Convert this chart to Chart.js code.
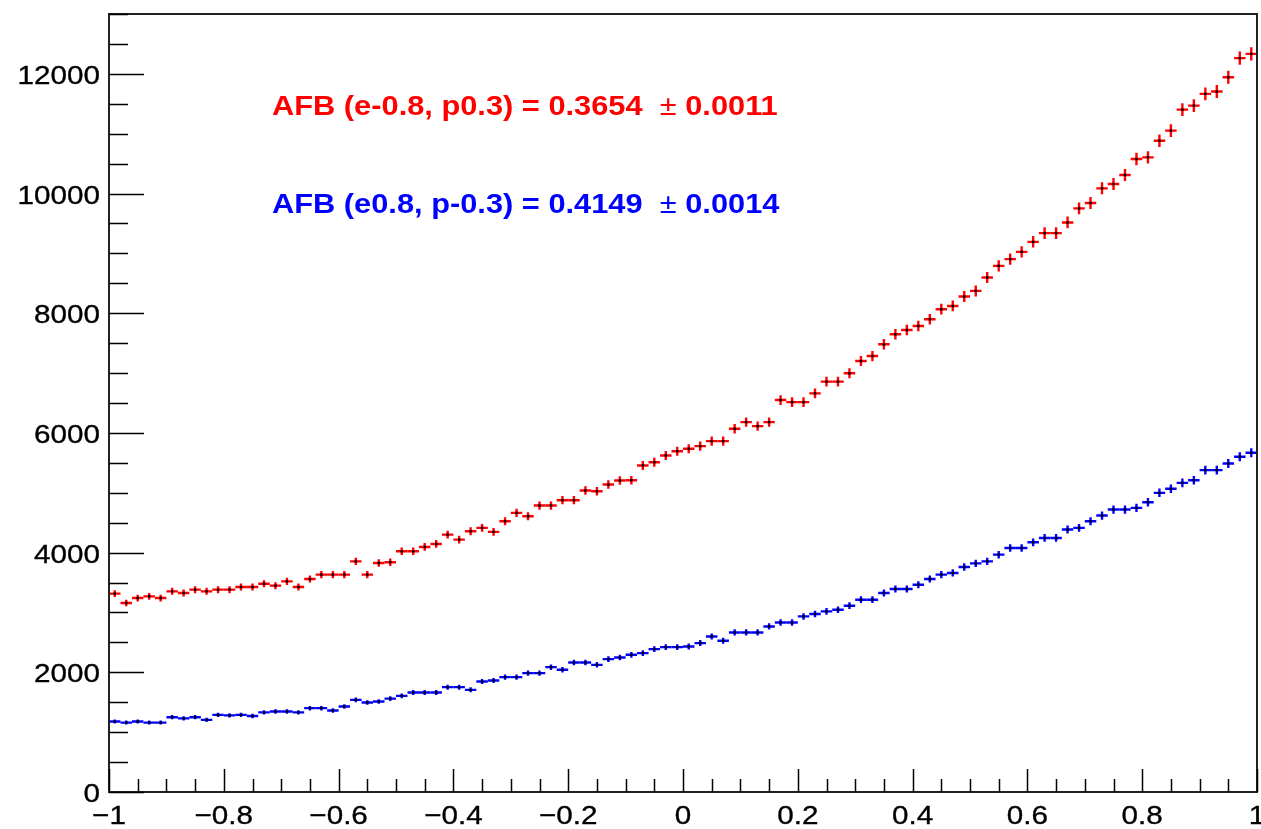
<!DOCTYPE html>
<html>
<head>
<meta charset="utf-8">
<title>AFB histogram</title>
<script src="https://cdn.jsdelivr.net/npm/chart.js@4.4.1/dist/chart.umd.min.js"></script>
<style>
    html, body { margin: 0; padding: 0; background: #fff; }
    canvas { display: block; }
</style>
</head>
<body>
<canvas id="afbChart" width="1261" height="829"></canvas>
<script>
// histogram binning (100 bins on -1..1)
const NBINS = 100;
const XMIN = -1;
const XMAX = 1;
const YMAX = 13000;

// bin contents
const redCounts = [
    3314, 3158, 3241, 3269, 3241, 3353, 3325, 3381, 3353, 3381,
    3381, 3425, 3425, 3481, 3448, 3520, 3425, 3559, 3632, 3632,
    3632, 3854, 3632, 3827, 3840, 4022, 4022, 4095, 4145, 4301,
    4217, 4357, 4413, 4346, 4524, 4664, 4608, 4787, 4787, 4876,
    4876, 5038, 5026, 5138, 5205, 5210, 5456, 5511, 5623, 5695,
    5735, 5780, 5863, 5863, 6070, 6181, 6114, 6181, 6549, 6515,
    6515, 6661, 6857, 6857, 6996, 7202, 7285, 7481, 7648, 7720,
    7787, 7899, 8067, 8122, 8279, 8373, 8597, 8792, 8904, 9026,
    9193, 9339, 9339, 9517, 9752, 9841, 10087, 10159, 10309, 10577,
    10605, 10883, 11051, 11402, 11469, 11665, 11704, 11944, 12262, 12334
];
const blueCounts = [
    1177, 1160, 1177, 1160, 1160, 1250, 1230, 1250, 1205, 1289,
    1280, 1289, 1270, 1330, 1344, 1344, 1330, 1401, 1401, 1361,
    1428, 1540, 1495, 1512, 1560, 1607, 1662, 1662, 1662, 1752,
    1752, 1707, 1846, 1863, 1919, 1919, 1986, 1986, 2086, 2042,
    2164, 2164, 2125, 2220, 2248, 2293, 2321, 2388, 2421, 2421,
    2432, 2488, 2599, 2527, 2666, 2666, 2666, 2766, 2833, 2833,
    2934, 2974, 3018, 3046, 3113, 3213, 3213, 3325, 3392, 3392,
    3464, 3559, 3632, 3660, 3760, 3820, 3854, 3966, 4078, 4078,
    4173, 4245, 4245, 4385, 4413, 4524, 4619, 4720, 4720, 4748,
    4842, 4999, 5066, 5166, 5210, 5378, 5378, 5489, 5601, 5668
];

// axis ticks
const xTickValues = [-1, -0.8, -0.6, -0.4, -0.2, 0, 0.2, 0.4, 0.6, 0.8, 1];
const yTickValues = [0, 2000, 4000, 6000, 8000, 10000, 12000];
const xMinorStep = 0.05;
const yMinorStep = 500;

// text boxes
const redText = ['AFB (e-0.8, p0.3) = 0.3654  ', '\u00b1', ' 0.0011'];
const blueText = ['AFB (e0.8, p-0.3) = 0.4149  ', '\u00b1', ' 0.0014'];

const RED = '#ff0000';
const BLUE = '#0000ff';
const binWidth = (XMAX - XMIN) / NBINS;

function toPoints(counts) {
    return counts.map((v, i) => ({ x: XMIN + (i + 0.5) * binWidth, y: v }));
}

function fmtTick(v) {
    const s = String(Math.abs(+v.toFixed(2)));
    return v < 0 ? '\u2212' + s : s;
}

// stretched text like the ROOT canvas (slightly heavier stroke)
function stretchText(ctx, text, x, y, sx, align) {
    ctx.save();
    ctx.translate(x, y);
    ctx.scale(sx, 1);
    ctx.textAlign = align;
    ctx.fillText(text, 0, 0);
    ctx.lineWidth = 0.35;
    ctx.strokeStyle = ctx.fillStyle;
    ctx.strokeText(text, 0, 0);
    ctx.restore();
}

const rootStylePlugin = {
    id: 'rootStyle',
    afterDatasetsDraw(chart) {
        const ctx = chart.ctx;
        const xs = chart.scales.x;
        const ys = chart.scales.y;
        ctx.save();
        chart.data.datasets.forEach(ds => {
            ctx.strokeStyle = ds.borderColor;
            ctx.lineWidth = 2.4;
            ds.data.forEach(p => {
                const err = Math.sqrt(p.y);
                const px = xs.getPixelForValue(p.x);
                const x0 = xs.getPixelForValue(p.x - binWidth / 2);
                const x1 = xs.getPixelForValue(p.x + binWidth / 2);
                const py = ys.getPixelForValue(p.y);
                const y0 = ys.getPixelForValue(p.y - err);
                const y1 = ys.getPixelForValue(p.y + err);
                ctx.beginPath();
                ctx.moveTo(x0, py);
                ctx.lineTo(x1, py);
                ctx.moveTo(px, y0);
                ctx.lineTo(px, y1);
                ctx.stroke();
            });
            // black marker dot in the middle
            ctx.fillStyle = '#000';
            ds.data.forEach(p => {
                const px = xs.getPixelForValue(p.x);
                const py = ys.getPixelForValue(p.y);
                ctx.fillRect(px - 1.2, py - 1.2, 2.4, 2.4);
            });
        });
        ctx.restore();
    },
    afterDraw(chart) {
        const ctx = chart.ctx;
        const area = chart.chartArea;
        const xs = chart.scales.x;
        const ys = chart.scales.y;
        ctx.save();

        // frame
        ctx.strokeStyle = '#222';
        ctx.lineWidth = 2;
        ctx.strokeRect(area.left, area.top, area.right - area.left, area.bottom - area.top);

        // ticks (inside the frame)
        ctx.strokeStyle = '#000';
        ctx.lineWidth = 1.5;
        ctx.beginPath();
        for (let v = 0; v <= YMAX + 1; v += yMinorStep) {
            const y = Math.round(ys.getPixelForValue(v)) + 0.5;
            const len = v % 2000 === 0 ? 35 : 19;
            ctx.moveTo(area.left, y);
            ctx.lineTo(area.left + len, y);
        }
        for (let k = 0; k <= Math.round((XMAX - XMIN) / xMinorStep); k++) {
            const v = XMIN + k * xMinorStep;
            const x = Math.round(xs.getPixelForValue(v)) + 0.5;
            const len = k % 4 === 0 ? 23 : 13;
            ctx.moveTo(x, area.bottom);
            ctx.lineTo(x, area.bottom - len);
        }
        ctx.stroke();

        // tick labels
        ctx.fillStyle = '#000';
        ctx.font = '26px "Liberation Sans", Arial, sans-serif';
        ctx.textBaseline = 'alphabetic';
        yTickValues.forEach(v => {
            stretchText(ctx, fmtTick(v), area.left - 9, ys.getPixelForValue(v) + 10, 1.14, 'right');
        });
        xTickValues.forEach(v => {
            stretchText(ctx, fmtTick(v), xs.getPixelForValue(v), area.bottom + 32, 1.14, 'center');
        });

        // AFB text boxes
        drawLabel(ctx, redText, RED, 272, 115);
        drawLabel(ctx, blueText, BLUE, 272, 213);
        ctx.restore();
    }
};

function drawLabel(ctx, parts, color, x, y) {
    const sx = 1.1;
    const fonts = [
        'bold 28px "Liberation Sans", Arial, sans-serif',
        '28px "Liberation Sans", Arial, sans-serif',
        'bold 28px "Liberation Sans", Arial, sans-serif'
    ];
    ctx.save();
    ctx.fillStyle = color;
    ctx.textBaseline = 'alphabetic';
    ctx.translate(x, y);
    ctx.scale(sx, 1);
    ctx.textAlign = 'left';
    let cx = 0;
    parts.forEach((t, i) => {
        ctx.font = fonts[i];
        ctx.fillText(t, cx, 0);
        cx += ctx.measureText(t).width;
    });
    ctx.restore();
}

document.addEventListener('DOMContentLoaded', function() {
    const canvas = document.getElementById('afbChart');
    new Chart(canvas, {
        type: 'scatter',
        data: {
            datasets: [{
                label: 'e-0.8, p0.3',
                data: toPoints(redCounts),
                borderColor: RED,
                backgroundColor: RED,
                pointRadius: 0,
                showLine: false
            }, {
                label: 'e0.8, p-0.3',
                data: toPoints(blueCounts),
                borderColor: BLUE,
                backgroundColor: BLUE,
                pointRadius: 0,
                showLine: false
            }]
        },
        options: {
            responsive: false,
            animation: false,
            devicePixelRatio: 1,
            layout: {
                padding: { left: 109, right: 4, top: 14, bottom: 37 }
            },
            plugins: {
                legend: { display: false },
                tooltip: { enabled: false }
            },
            scales: {
                x: { type: 'linear', min: XMIN, max: XMAX, display: false },
                y: { type: 'linear', min: 0, max: YMAX, display: false }
            }
        },
        plugins: [rootStylePlugin]
    });
});
</script>
</body>
</html>
